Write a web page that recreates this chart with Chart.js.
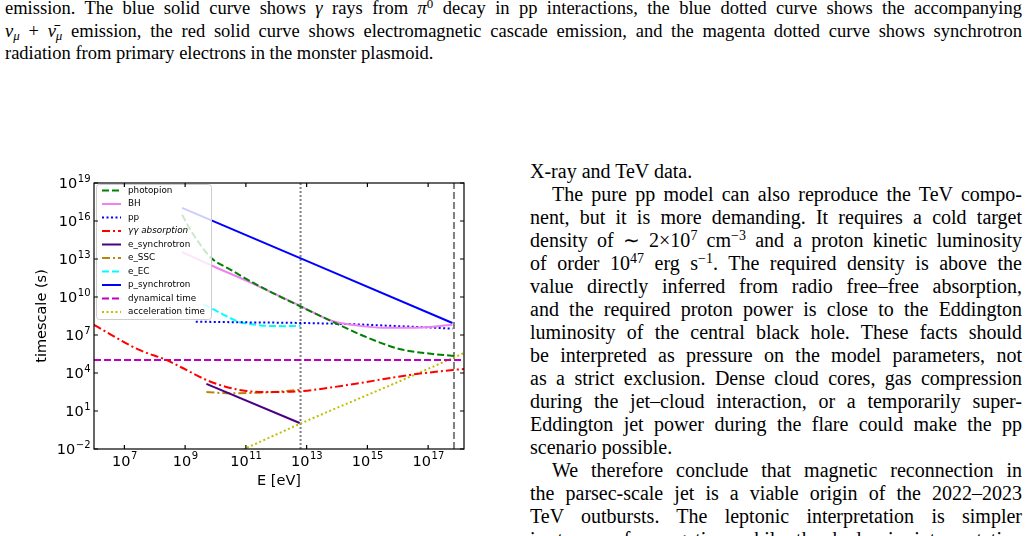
<!DOCTYPE html>
<html>
<head>
<meta charset="utf-8">
<script src="https://cdn.jsdelivr.net/npm/chart.js@4.4.0/dist/chart.umd.min.js"></script>
<style>
  html, body { margin: 0; padding: 0; background: #fff; }
  body { width: 1028px; height: 536px; overflow: hidden; position: relative;
         font-family: "Liberation Serif", "Times New Roman", serif; color: #000; }
  .caption { position: absolute; left: 5px; top: -3px; width: 1017px; font-size: 18.5px; line-height: 22.5px; }
  .col { position: absolute; left: 530px; top: 160px; width: 492px; font-size: 20px; line-height: 23px; }
  .j { white-space: nowrap; }
  .ind { text-indent: 22px; }
  sup { font-size: 0.7em; line-height: 0; vertical-align: 0.5em; }
  sub { font-size: 0.7em; line-height: 0; vertical-align: -0.25em; }
  #wrap { position: absolute; left: 0; top: 170px; width: 500px; height: 320px; }
</style>
</head>
<body>
<div class="caption">
  <div class="j">emission. The blue solid curve shows <i>γ</i> rays from <i>π</i><sup>0</sup> decay in pp interactions, the blue dotted curve shows the accompanying</div>
  <div class="j"><i>ν</i><sub><i>μ</i></sub> + <i>ν̄</i><sub><i>μ</i></sub> emission, the red solid curve shows electromagnetic cascade emission, and the magenta dotted curve shows synchrotron</div>
  <div>radiation from primary electrons in the monster plasmoid.</div>
</div>

<div id="wrap"><canvas id="chart" width="500" height="320"></canvas></div>

<div class="col">
  <div>X-ray and TeV data.</div>
  <div class="j ind">The pure pp model can also reproduce the TeV compo-</div>
  <div class="j">nent, but it is more demanding. It requires a cold target</div>
  <div class="j">density of ∼ 2×10<sup>7</sup> cm<sup>−3</sup> and a proton kinetic luminosity</div>
  <div class="j">of order 10<sup>47</sup> erg s<sup>−1</sup>. The required density is above the</div>
  <div class="j">value directly inferred from radio free–free absorption,</div>
  <div class="j">and the required proton power is close to the Eddington</div>
  <div class="j">luminosity of the central black hole. These facts should</div>
  <div class="j">be interpreted as pressure on the model parameters, not</div>
  <div class="j">as a strict exclusion. Dense cloud cores, gas compression</div>
  <div class="j">during the jet–cloud interaction, or a temporarily super-</div>
  <div class="j">Eddington jet power during the flare could make the pp</div>
  <div>scenario possible.</div>
  <div class="j ind">We therefore conclude that magnetic reconnection in</div>
  <div class="j">the parsec-scale jet is a viable origin of the 2022–2023</div>
  <div class="j">TeV outbursts. The leptonic interpretation is simpler</div>
  <div class="j">in terms of energetics, while the hadronic interpretation</div>
</div>

<script>
// values, as log10(E/eV) and log10(t/s)
const photopionE = [8.9, 9.15, 9.45, 9.85, 10.5, 11.45, 12.8, 13.85, 14.95, 16.05, 17.15, 17.85];
const photopionT = [16.5, 15.4, 14.3, 13.1, 12.15, 10.85, 9.25, 8.05, 6.85, 5.9, 5.5, 5.35];
const bhE = [8.9, 10.0, 11.1, 12.8, 13.85, 14.75, 15.5, 16.6, 17.8];
const bhT = [13.55, 12.35, 11.2, 9.28, 8.1, 7.72, 7.58, 7.58, 7.8];
const ppE = [9.35, 11.0, 12.8, 14.5, 16.0, 17.0, 17.8];
const ppT = [8.05, 8.0, 7.95, 7.85, 7.7, 7.6, 7.5];
const ggE = [6.0, 7.49, 8.38, 9.04, 9.7, 10.36, 11.02, 11.78, 12.87, 14.75, 16.4, 17.81, 18.18];
const ggT = [7.8, 5.82, 5.03, 4.24, 3.45, 2.9, 2.58, 2.5, 2.58, 3.21, 3.85, 4.24, 4.32];
const eSyncE = [9.7, 12.77];
const eSyncT = [3.14, 0.05];
const eSscE = [9.7, 10.45, 11.5, 12.2, 12.8];
const eSscT = [2.5, 2.4, 2.45, 2.55, 2.68];
const eEcE = [9.6, 9.95, 10.35, 10.75, 11.2, 11.7, 12.3, 12.8];
const eEcT = [9.42, 9.0, 8.5, 8.05, 7.85, 7.72, 7.7, 7.72];
const pSyncE = [8.9, 17.8];
const pSyncT = [17.03, 7.95];
const dynE = [6.0, 18.18];
const dynT = [5.03, 5.03];
const accE = [10.9, 12.85, 16.4, 18.2];
const accT = [-2.05, 0.06, 3.7, 5.6];
const dottedLineE = 12.8;
const dashedLineE = 17.85;

const xTickExps = [7, 9, 11, 13, 15, 17];
const yTickExps = [-2, 1, 4, 7, 10, 13, 16, 19];
const xMinExp = 6, xMaxExp = 18.18;
const yMinExp = -2, yMaxExp = 19;

// justify each text line by word spacing so the line breaks stay as in the page
document.querySelectorAll('.j').forEach(div => {
  const span = document.createElement('span');
  while (div.firstChild) span.appendChild(div.firstChild);
  div.appendChild(span);
  const indent = parseFloat(getComputedStyle(div).textIndent) || 0;
  const target = div.clientWidth - indent;
  const w = span.getBoundingClientRect().width;
  const spaces = (span.textContent.trim().match(/\s+/g) || []).length;
  if (spaces) span.style.wordSpacing = ((target - w) / spaces) + 'px';
});

const pts = (le, lt) => le.map((e, i) => ({ x: Math.pow(10, e), y: Math.pow(10, lt[i]) }));

function curve(label, le, lt, color, dash, extra) {
  return Object.assign({
    label, data: pts(le, lt), borderColor: color, borderWidth: 2, borderDash: dash,
    pointRadius: 0, fill: false, cubicInterpolationMode: 'monotone', clip: 0
  }, extra || {});
}
function vline(le, dash) {
  return {
    label: '', legend: false, data: pts([le, le], [yMinExp, yMaxExp]), borderColor: '#808080',
    borderWidth: 2, borderDash: dash, pointRadius: 0, fill: false, clip: 0
  };
}

const DASH = [7, 3], DOT = [2, 2.5], DASHDOT = [8, 3, 2, 3];

// legend drawn on top of the curves, matplotlib style box
const boxLegend = {
  id: 'boxLegend',
  afterDatasetsDraw(chart) {
    const { ctx, chartArea: a } = chart;
    const items = chart.data.datasets.filter(d => d.legend !== false);
    const x0 = a.left + 2, y0 = a.top + 1, w = 115, rowH = 13.5, h = items.length * rowH;
    ctx.save();
    ctx.beginPath();
    ctx.roundRect(x0 + 0.5, y0 + 0.5, w, h, 3);
    ctx.fillStyle = 'rgba(255,255,255,0.8)'; ctx.fill();
    ctx.strokeStyle = '#cccccc'; ctx.lineWidth = 1; ctx.stroke();
    items.forEach((d, i) => {
      const cy = y0 + 6.5 + i * rowH;
      ctx.strokeStyle = d.borderColor; ctx.lineWidth = d.borderWidth;
      ctx.setLineDash(d.borderDash || []);
      ctx.beginPath(); ctx.moveTo(x0 + 6, cy); ctx.lineTo(x0 + 25, cy); ctx.stroke();
      ctx.setLineDash([]);
      ctx.fillStyle = '#000'; ctx.textBaseline = 'middle'; ctx.textAlign = 'left';
      ctx.font = (d.italic ? 'italic ' : '') + '8.8px "DejaVu Sans"';
      ctx.fillText(d.label, x0 + 32, cy);
    });
    ctx.restore();
  }
};

// "10" with a raised exponent, like mathtext
function drawPow(ctx, exp, x, baseline, align) {
  const base = '10', sup = String(exp).replace('-', '−');
  ctx.font = '14.5px "DejaVu Sans"';
  const wb = ctx.measureText(base).width;
  ctx.font = '10px "DejaVu Sans"';
  const ws = ctx.measureText(sup).width;
  const left = align === 'right' ? x - wb - ws : x - (wb + ws) / 2;
  ctx.textAlign = 'left'; ctx.textBaseline = 'alphabetic';
  ctx.font = '14.5px "DejaVu Sans"'; ctx.fillText(base, left, baseline);
  ctx.font = '10px "DejaVu Sans"'; ctx.fillText(sup, left + wb + 0.5, baseline - 6.5);
}

// full frame with inward ticks on all four sides, plus tick labels
const frameTicks = {
  id: 'frameTicks',
  afterDraw(chart) {
    const { ctx, chartArea: a, scales: { x, y } } = chart;
    ctx.save();
    ctx.strokeStyle = '#000'; ctx.lineWidth = 1.2; ctx.setLineDash([]);
    ctx.strokeRect(a.left, a.top, a.right - a.left, a.bottom - a.top);
    ctx.beginPath();
    x.ticks.forEach(t => {
      const px = x.getPixelForValue(t.value);
      ctx.moveTo(px, a.bottom); ctx.lineTo(px, a.bottom - 4);
      ctx.moveTo(px, a.top); ctx.lineTo(px, a.top + 4);
    });
    y.ticks.forEach(t => {
      const py = y.getPixelForValue(t.value);
      ctx.moveTo(a.left, py); ctx.lineTo(a.left + 4, py);
      ctx.moveTo(a.right, py); ctx.lineTo(a.right - 4, py);
    });
    ctx.stroke();
    ctx.fillStyle = '#000';
    x.ticks.forEach(t => {
      drawPow(ctx, Math.round(Math.log10(t.value)), x.getPixelForValue(t.value), a.bottom + 16.5, 'center');
    });
    y.ticks.forEach(t => {
      drawPow(ctx, Math.round(Math.log10(t.value)), a.left - 4, y.getPixelForValue(t.value) + 5.3, 'right');
    });
    ctx.restore();
  }
};

Chart.defaults.font.family = '"DejaVu Sans", sans-serif';
Chart.defaults.color = '#000';

new Chart(document.getElementById('chart'), {
  type: 'line',
  data: {
    datasets: [
      curve('photopion', photopionE, photopionT, '#008000', DASH),
      curve('BH', bhE, bhT, '#EE82EE', []),
      curve('pp', ppE, ppT, '#0000FF', DOT),
      curve('γγ absorption', ggE, ggT, '#FF0000', DASHDOT, { italic: true }),
      curve('e_synchrotron', eSyncE, eSyncT, '#4B0082', []),
      curve('e_SSC', eSscE, eSscT, '#B8860B', DASHDOT),
      curve('e_EC', eEcE, eEcT, '#00FFFF', DASH),
      curve('p_synchrotron', pSyncE, pSyncT, '#0000FF', []),
      curve('dynamical time', dynE, dynT, '#BF00BF', DASH),
      curve('acceleration time', accE, accT, '#BFBF00', DOT),
      vline(dottedLineE, [2, 2]),
      vline(dashedLineE, [7, 3])
    ]
  },
  options: {
    responsive: false,
    animation: false,
    devicePixelRatio: 1,
    layout: { padding: { top: 13, right: 36, left: 0, bottom: 0 } },
    plugins: { legend: { display: false }, tooltip: { enabled: false } },
    scales: {
      x: {
        type: 'logarithmic',
        min: Math.pow(10, xMinExp), max: Math.pow(10, xMaxExp),
        grid: { display: false, drawTicks: false },
        border: { display: false },
        afterBuildTicks: s => { s.ticks = xTickExps.map(e => ({ value: Math.pow(10, e) })); },
        afterFit: s => { s.height = 41; },
        ticks: { display: false },
        title: { display: true, text: 'E [eV]', font: { size: 14.5 }, padding: { top: 3, bottom: 0 } }
      },
      y: {
        type: 'logarithmic',
        min: Math.pow(10, yMinExp), max: Math.pow(10, yMaxExp),
        grid: { display: false, drawTicks: false },
        border: { display: false },
        afterBuildTicks: s => { s.ticks = yTickExps.map(e => ({ value: Math.pow(10, e) })); },
        afterFit: s => { s.width = 94; },
        ticks: { display: false },
        title: { display: true, text: 'timescale (s)', font: { size: 14.5 }, padding: { top: 34, bottom: 0 } }
      }
    }
  },
  plugins: [boxLegend, frameTicks]
});
</script>
</body>
</html>
